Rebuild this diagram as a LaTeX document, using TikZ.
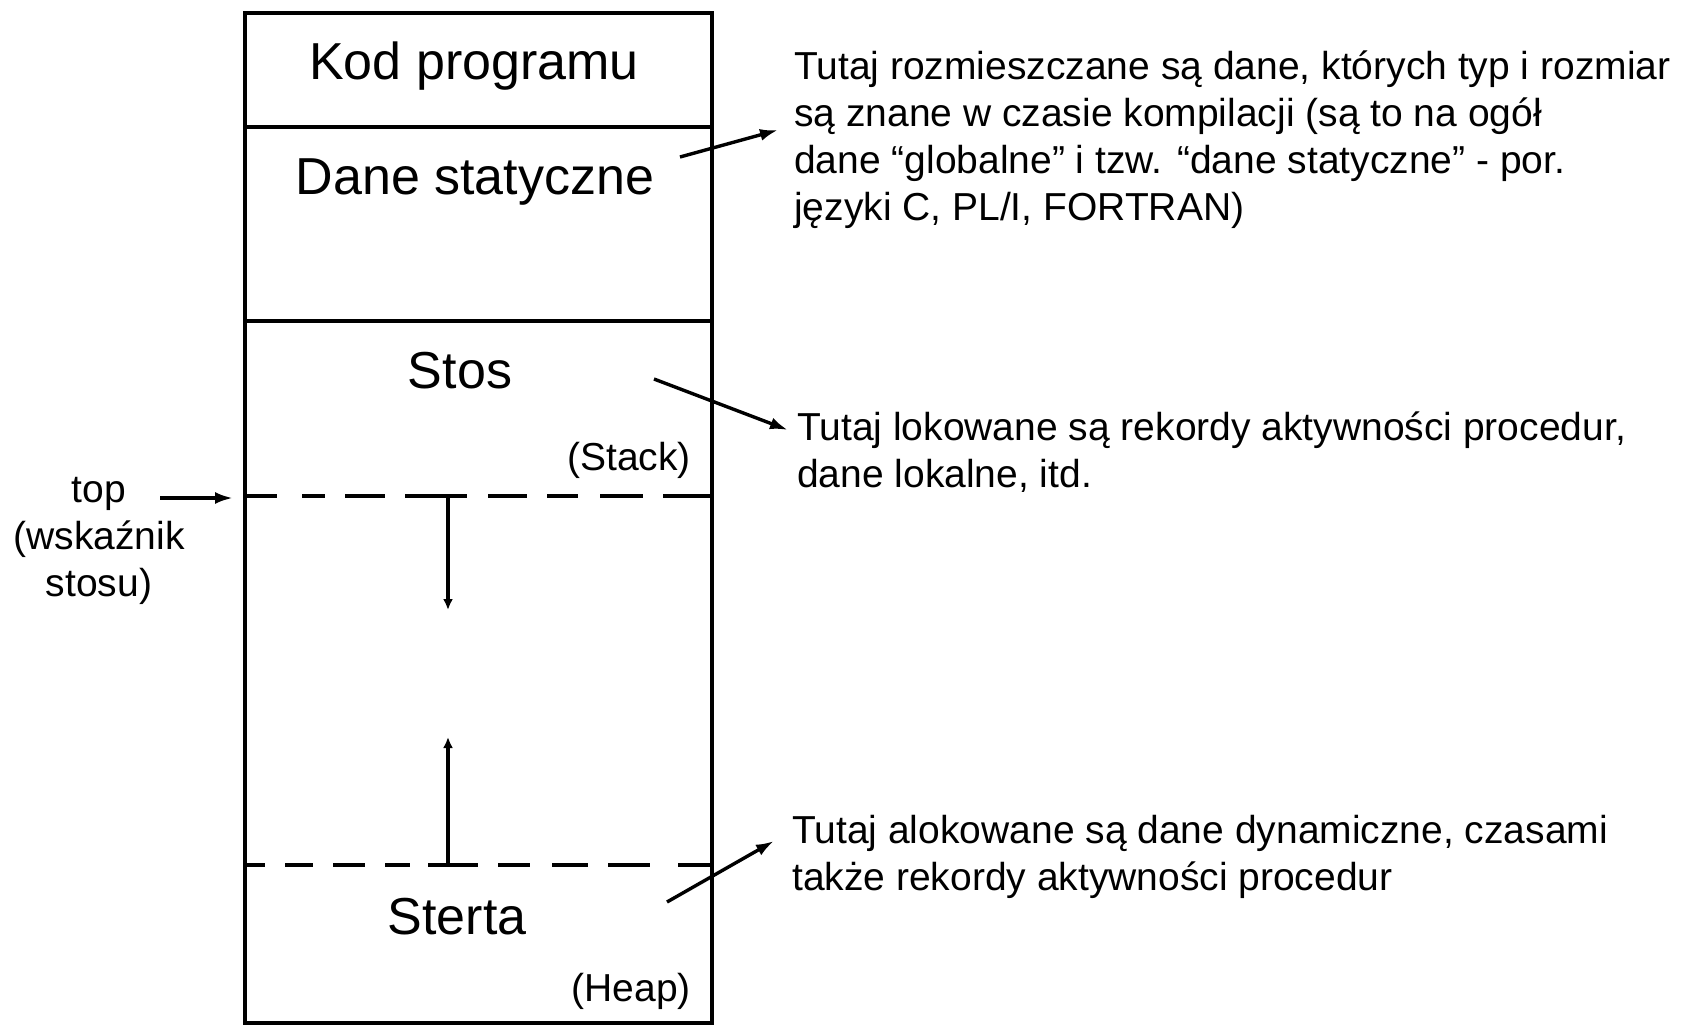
\documentclass[tikz,border=0pt]{standalone}
\usepackage{fontspec}
\setmainfont{Liberation Sans}
\usetikzlibrary{arrows.meta}
\begin{document}
\begin{tikzpicture}[x=1pt,y=-1pt,
  wall/.style={line width=3.4pt, line cap=rect},
  seg/.style={line width=3.4pt},
  pointer/.style={line width=3.4pt, -{Latex[length=18pt,width=12pt]}},
  growth/.style={line width=3.4pt, -{Latex[length=11pt,width=10pt]}},
  bigtext/.style={inner sep=0pt, font=\fontsize{52}{62}\selectfont},
  note/.style={inner sep=0pt, font=\fontsize{39}{47}\selectfont},
]
\useasboundingbox (0,0) rectangle (1689,1026);
\fill[white] (0,0) rectangle (1689,1026);

% memory layout column
\draw[wall] (245,13) rectangle (712,1023);
\draw[wall] (245,127) -- (712,127);
\draw[wall] (245,321) -- (712,321);

% stack top boundary (dashed)
\foreach \a/\b in {245/277, 302/325, 345/385, 405/467, 488/527, 547/578, 600/643, 663/712}
  \draw[seg] (\a,496) -- (\b,496);
% heap boundary (dashed)
\foreach \a/\b in {245/265, 285/313, 333/365, 385/410, 428/478, 498/530, 552/588, 608/650, 678/712}
  \draw[seg] (\a,865) -- (\b,865);

% region labels
\node[bigtext, anchor=base] (kod) at (474,79) {Kod programu};
\node[bigtext, anchor=base] (dane) at (475,194) {Dane statyczne};
\node[bigtext, anchor=base] (stos) at (460,388) {Stos};
\node[note, anchor=base east] (stack) at (691,470) {(Stack)};
\node[bigtext, anchor=base] (sterta) at (457,934) {Sterta};
\node[note, anchor=base east] (heap) at (691,1001) {(Heap)};

% stack pointer label
\node[note, anchor=base] (top) at (99,502)
  {\begin{tabular}[t]{@{}c@{}}top\\(wskaźnik\\stosu)\end{tabular}};
\coordinate (topsrc) at (160,498);
\coordinate (topdst) at (233,498);
\draw[pointer] (topsrc) -- (topdst);

% growth directions
\coordinate (sgrowA) at (448,496);
\coordinate (sgrowB) at (448,610);
\coordinate (hgrowA) at (448,865);
\coordinate (hgrowB) at (448,737);
\draw[growth] (sgrowA) -- (sgrowB);
\draw[growth] (hgrowA) -- (hgrowB);

% descriptions
\node[note, anchor=base west] (desc1) at (794,79)
  {\begin{tabular}[t]{@{}l@{}}Tutaj rozmieszczane są dane, których typ i rozmiar\\
  są znane w czasie kompilacji (są to na ogół\\
  dane “globalne” i tzw. “dane statyczne” - por.\\
  języki C, PL/I, FORTRAN)\end{tabular}};
\node[note, anchor=base west] (desc2) at (797,440)
  {\begin{tabular}[t]{@{}l@{}}Tutaj lokowane są rekordy aktywności procedur,\\
  dane lokalne, itd.\end{tabular}};
\node[note, anchor=base west] (desc3) at (792,843)
  {\begin{tabular}[t]{@{}l@{}}Tutaj alokowane są dane dynamiczne, czasami\\
  także rekordy aktywności procedur\end{tabular}};

\coordinate (a1s) at (680,157);
\coordinate (a1e) at (778,130);
\coordinate (a2s) at (654,379);
\coordinate (a2e) at (788,430);
\coordinate (a3s) at (667,902);
\coordinate (a3e) at (774,841);
\draw[pointer] (a1s) -- (a1e);
\draw[pointer] (a2s) -- (a2e);
\draw[pointer] (a3s) -- (a3e);
\end{tikzpicture}
\end{document}
